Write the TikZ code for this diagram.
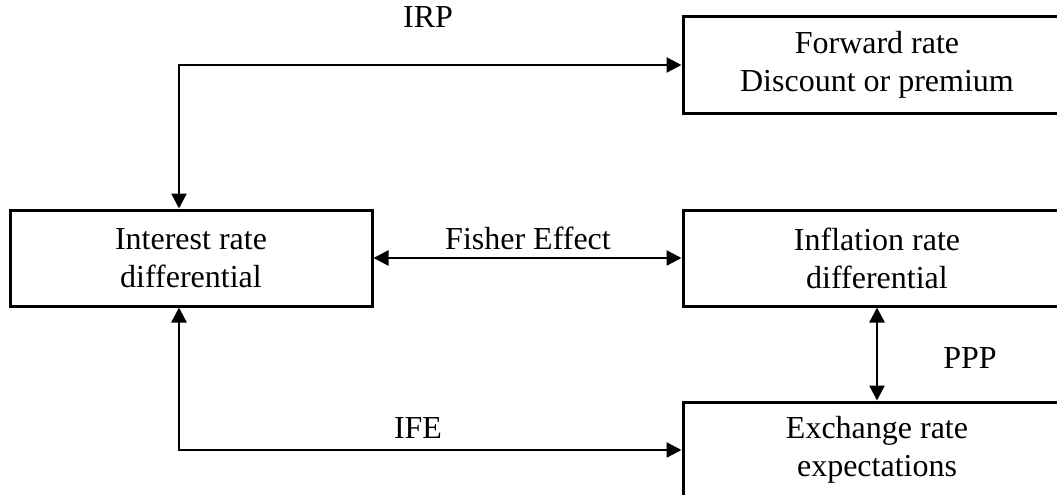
\documentclass[tikz,border=0pt]{standalone}
\usepackage{fontspec}
\setmainfont{Liberation Serif}
\usetikzlibrary{arrows.meta}
\begin{document}
\begin{tikzpicture}[x=1pt,y=-1pt,
  box/.style={draw, line width=3pt, align=center, inner sep=0pt,
    minimum height=96pt, font=\fontsize{32}{38}\selectfont},
  lbl/.style={font=\fontsize{32}{38}\selectfont, inner sep=0pt},
  conn/.style={line width=2.5pt, {Triangle[length=15pt,width=15pt]}-{Triangle[length=15pt,width=15pt]}}]
\useasboundingbox (0,0) rectangle (1057,495);
\clip (0,0) rectangle (1057,495);
\node[box, minimum width=362pt] (int) at (191,258) {Interest rate\\differential};
\node[box, minimum width=388pt] (fwd) at (877,65) {Forward rate\\Discount or premium};
\node[box, minimum width=388pt] (infl) at (877,258) {Inflation rate\\differential};
\node[box, minimum width=388pt] (exch) at (877,450) {Exchange rate\\expectations};
\coordinate (k) at (179,0);
\draw[conn] (k |- int.north) |- (fwd.west);
\draw[conn] (k |- int.south) |- (exch.west);
\draw[conn] (int.east) -- (infl.west);
\draw[conn] (infl.south) -- (exch.north);
\node[lbl] (irp) at (428,17) {IRP};
\node[lbl] (fe) at (528,238) {Fisher Effect};
\node[lbl] (ife) at (418,428) {IFE};
\node[lbl] (ppp) at (970,358) {PPP};
\end{tikzpicture}
\end{document}
